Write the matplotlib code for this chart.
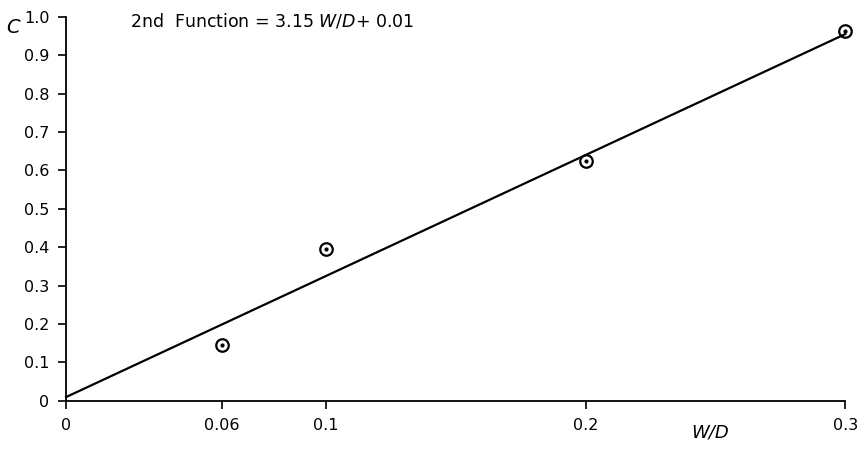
import numpy as np
import matplotlib
matplotlib.use("Agg")
import matplotlib.pyplot as plt

# measured points
wd = [0.06, 0.1, 0.2, 0.3]
c_vals = [0.146, 0.395, 0.625, 0.963]

# fitted line C = 3.15 W/D + 0.01
slope = 3.15
intercept = 0.01
fit_x = [0.0, 0.3]

x_ticks = [0, 0.06, 0.1, 0.2, 0.3]
x_labels = ["0", "0.06", "0.1", "0.2", "0.3"]
y_ticks = [0, 0.1, 0.2, 0.3, 0.4, 0.5, 0.6, 0.7, 0.8, 0.9, 1.0]
y_labels = ["0", "0.1", "0.2", "0.3", "0.4", "0.5", "0.6", "0.7", "0.8", "0.9", "1.0"]

plt.rcParams['font.family'] = ['DejaVu Sans']
fig = plt.figure(figsize=(8.59, 4.54), dpi=100)
ax = fig.add_axes([0.077, 0.117, 0.907, 0.846])

fx = np.array(fit_x)
ax.plot(fx, slope * fx + intercept, color='black', lw=1.6, clip_on=False)
ax.plot(wd, c_vals, 'o', ms=9, mfc='none', mec='black', mew=1.6, clip_on=False)
ax.plot(wd, c_vals, 'o', ms=2, color='black', clip_on=False)

ax.set_xlim(0, 0.3)
ax.set_ylim(0, 1.0)
ax.set_xticks(x_ticks)
ax.set_xticklabels(x_labels)
ax.set_yticks(y_ticks)
ax.set_yticklabels(y_labels)
for s in ['top', 'right']:
    ax.spines[s].set_visible(False)
for s in ['left', 'bottom']:
    ax.spines[s].set_linewidth(1.3)
ax.tick_params(axis='both', direction='out', length=6, width=1.2, labelsize=11.5, pad=6)

ax.text(-0.068, 0.972, "C", transform=ax.transAxes, fontsize=14, style='italic',
        ha='center', va='center')
ax.text(0.827, -0.083, "W/D", transform=ax.transAxes, fontsize=13, style='italic',
        ha='center', va='center')
ax.text(0.082, 0.99, r"2nd  Function = 3.15 $\it{W/D}$+ 0.01", transform=ax.transAxes,
        fontsize=12.5, ha='left', va='center')

fig.savefig("out.png", dpi=100)
